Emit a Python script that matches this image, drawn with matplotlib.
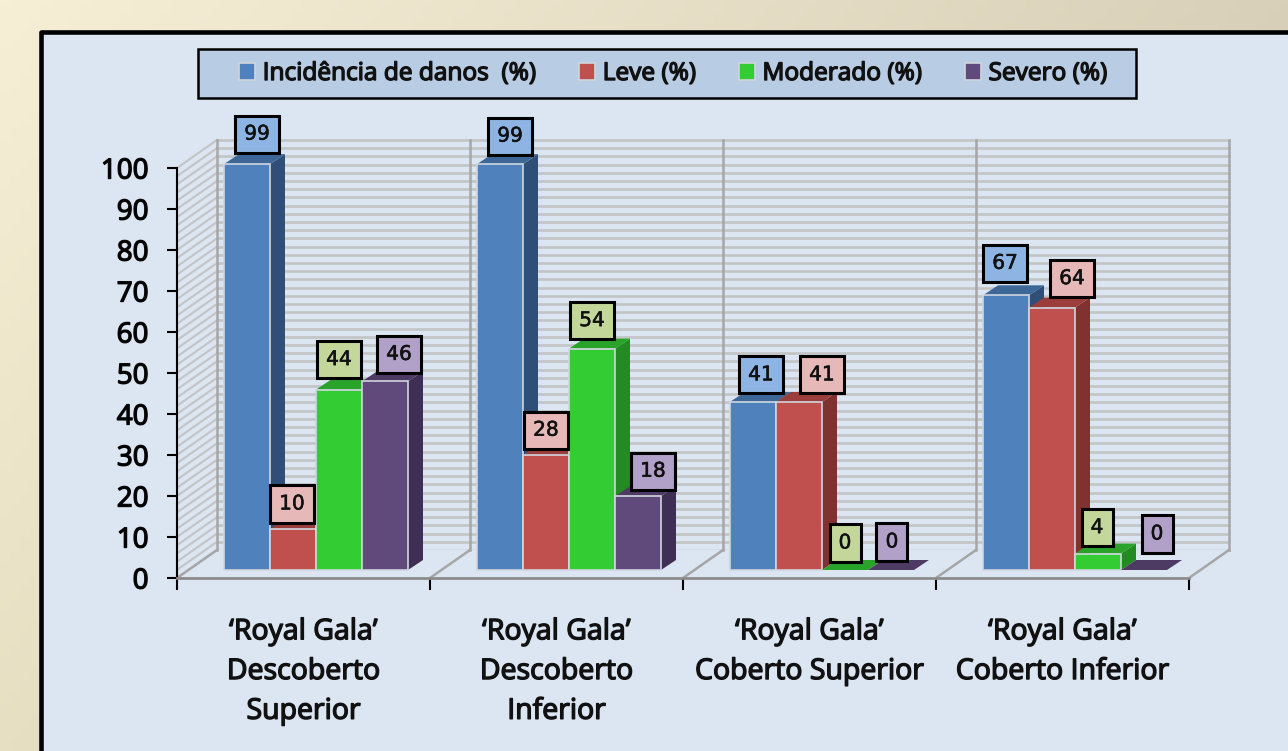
import numpy as np
import matplotlib
matplotlib.use('Agg')
import matplotlib.pyplot as plt
import matplotlib.patheffects as pe
from matplotlib.patches import Patch, Rectangle

groups = ["\u2018Royal Gala\u2019\nDescoberto\nSuperior", "\u2018Royal Gala\u2019\nDescoberto\nInferior",
          "\u2018Royal Gala\u2019\nCoberto Superior", "\u2018Royal Gala\u2019\nCoberto Inferior"]
series = ['Incid\u00eancia de danos  (%)', 'Leve (%)', 'Moderado (%)', 'Severo (%)']
incidencia = [99, 99, 41, 67]
leve = [10, 28, 41, 64]
moderado = [44, 54, 0, 4]
severo = [46, 18, 0, 0]
values = [incidencia, leve, moderado, severo]

front = ['#4f81bd', '#c0504d', '#33cc33', '#604a7b']
side = ['#2f4f78', '#7f3230', '#228b22', '#3f2f55']
top = ['#3d6797', '#9a3d3b', '#29a329', '#4d3b63']
label_bg = ['#8db4e2', '#e6b8b7', '#c4d79b', '#b1a0c7']

# label box offsets from bar top centre, pixels
label_dx = [[10, -1, 0, 14], [10, 0, 0, 15], [8, 23, 0, 1], [-1, 20, -1, 13]]
label_dy = [[30, 25, 30, 27], [28, 25, 28, 25], [27, 27, 27, 28], [32, 29, 26, 36]]

W, H = 1288, 751
plt.rcParams['font.family'] = ['Open Sans', 'DejaVu Sans']
fig = plt.figure(figsize=(W / 100, H / 100), dpi=100)
heavy = [pe.withStroke(linewidth=1.0, foreground='#111111')]

# page background
bg = fig.add_axes([0, 0, 1, 1], zorder=0)
bg.set_xlim(0, W)
bg.set_ylim(H, 0)
bg.axis('off')
gx, gy = np.meshgrid(np.linspace(0, 1, 128), np.linspace(0, 1, 128))
c0 = np.array([0xf6, 0xef, 0xd6]) / 255
cx_end = np.array([0xd8, 0xd0, 0xb8]) / 255
cy_end = np.array([0xe6, 0xdf, 0xc2]) / 255
img = c0 + (cx_end - c0) * gx[..., None] + (cy_end - c0) * gy[..., None]
bg.imshow(img, extent=[0, W, H, 0], aspect='auto')
bg.add_patch(Rectangle((41.5, 31.5), W + 40, H, fc='#dce6f2', ec='black', lw=3.3, joinstyle='round'))
bg.add_patch(Rectangle((198, 49), 938, 49, fc='#b8cce4', ec='black', lw=1.8))

# chart axes, x in group units, y in percent
x0, x1 = 177, 1189
y0, y100 = 578, 168
ax = fig.add_axes([x0 / W, 1 - y0 / H, (x1 - x0) / W, (y0 - y100) / H], zorder=2)
ax.patch.set_alpha(0)
ax.set_xlim(0, 4)
ax.set_ylim(0, 100)
px = 4 / (x1 - x0)
py = 100 / (y0 - y100)

# walls
wall_dx, wall_dy = 40 * px, 28 * py
wall_c = '#c2c4c6'
for v in range(0, 102, 2):
    ax.plot([wall_dx, 4 + wall_dx], [v + wall_dy, v + wall_dy], color=wall_c, lw=1.9, clip_on=False, zorder=1)
    ax.plot([0, wall_dx], [v, v + wall_dy], color=wall_c, lw=1.5, clip_on=False, zorder=1)
ax.fill([0, 4, 4 + wall_dx, wall_dx], [0, 0, wall_dy, wall_dy], color='#dce6f2', zorder=1.2, clip_on=False)
for i in range(5):
    ax.plot([i + wall_dx, i + wall_dx], [wall_dy, 100 + wall_dy], color='#a6a6a6', lw=1.8, clip_on=False, zorder=1.5)
    ax.plot([i, i + wall_dx], [0, wall_dy], color='#a6a6a6', lw=1.8, clip_on=False, zorder=1.5)

# bars
bar_w = 46 * px
start = 47 * px
base = 8 * py
dx, dy = 15 * px, 10 * py
z = 3
for g in range(4):
    for s in range(4):
        v = values[s][g]
        left = g + start + s * bar_w
        right = left + bar_w
        t = base + v
        ax.fill([right, right + dx, right + dx, right], [base, base + dy, t + dy, t],
                color=side[s], zorder=z, clip_on=False, lw=0)
        ax.fill([left, right, right + dx, left + dx], [t, t, t + dy, t + dy],
                color=top[s], zorder=z, clip_on=False, lw=0)
        if v > 0:
            ax.bar(left, v, bar_w, bottom=base, align='edge', color=front[s], edgecolor='#d0d6de',
                   linewidth=1.2, zorder=z + 0.1, clip_on=False)
        z += 0.2

# value labels
for g in range(4):
    for s in range(4):
        v = values[s][g]
        cx = g + start + (s + 0.5) * bar_w + label_dx[g][s] * px
        cy = base + v + label_dy[g][s] * py
        ax.text(cx, cy, str(v), ha='center', va='center', fontsize=14.5, color='#111111',
                family=['DejaVu Sans'], zorder=20, clip_on=False,
                path_effects=[pe.withStroke(linewidth=0.4, foreground='#111111')],
                bbox=dict(boxstyle='square,pad=0.45', fc=label_bg[s], ec='black', lw=2.2))

# axes
for sp in ['top', 'right']:
    ax.spines[sp].set_visible(False)
ax.spines['left'].set_color('black')
ax.spines['left'].set_linewidth(1.5)
ax.spines['bottom'].set_color('#8c8c8c')
ax.spines['bottom'].set_linewidth(2)
ax.set_yticks(range(0, 101, 10))
ax.tick_params(axis='y', length=7, width=1.5, color='black', labelsize=20, pad=13.5)
for lab in ax.get_yticklabels():
    lab.set_path_effects(heavy)
ax.set_xticks(range(5))
ax.set_xticklabels([])
ax.tick_params(axis='x', which='major', length=8.5, width=1.5, color='black')
ax.set_xticks(np.arange(4) + 0.5, minor=True)
ax.set_xticklabels(groups, minor=True, fontsize=20.5, linespacing=1.56, color='#111111')
ax.tick_params(axis='x', which='minor', length=0, pad=29)
for lab in ax.get_xticklabels(minor=True):
    lab.set_path_effects(heavy)

# legend
handles = [Patch(facecolor=front[i], edgecolor='#d0d5dc', lw=1.2) for i in range(4)]
leg = ax.legend(handles, series, ncol=4, loc='center', bbox_to_anchor=((673.5 - x0) / (x1 - x0), (y0 - 74) / (y0 - y100)),
                frameon=False, prop=dict(size=17.6), handlelength=0.65, handleheight=0.65, handletextpad=0.3,
                columnspacing=1.76, borderpad=0, borderaxespad=0, labelcolor='#111111')
for t in leg.get_texts():
    t.set_path_effects(heavy)
leg.set_zorder(25)

fig.savefig('out.png', dpi=100)
